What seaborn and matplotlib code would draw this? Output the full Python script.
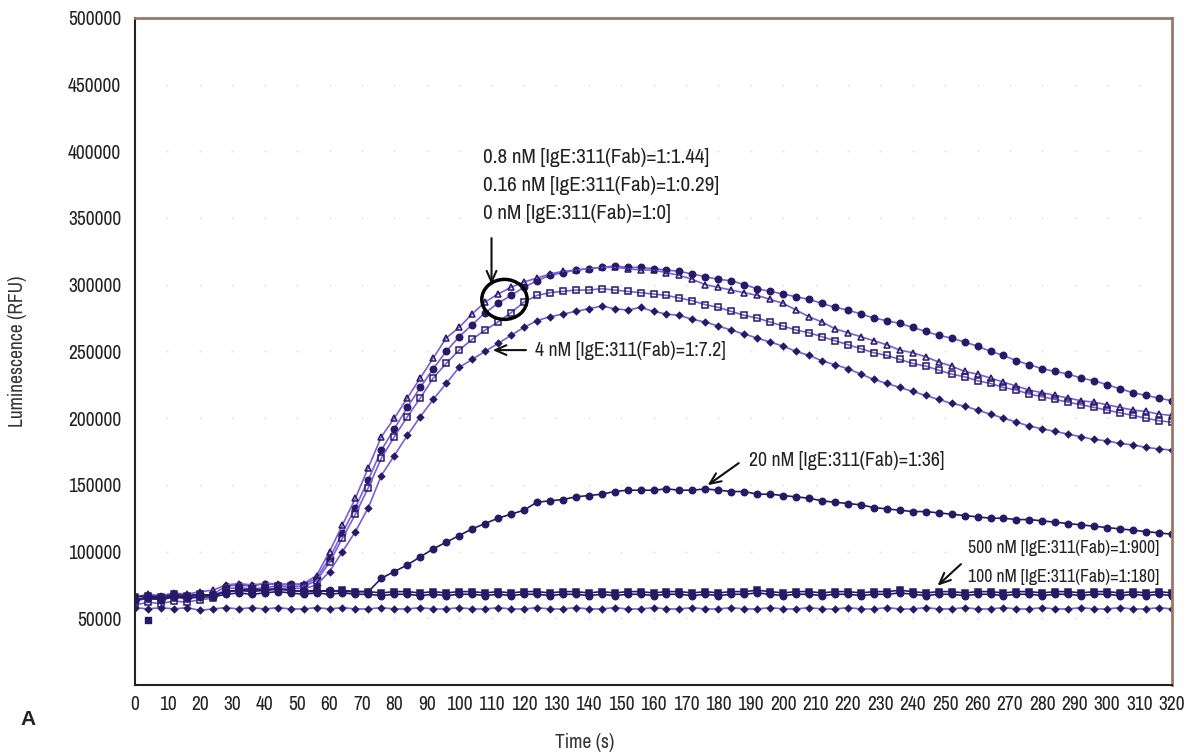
import numpy as np
import pandas as pd
import seaborn as sns
from matplotlib import pyplot as plt
from matplotlib import font_manager
from matplotlib.patches import Ellipse

# time points (s), one reading every 4 s
time_s = list(range(0, 321, 4))

# luminescence readings in thousands of RFU
conc_08 = [63, 65, 64, 66, 65, 67, 68, 74, 75, 74, 76, 75, 76,
           75, 80, 95, 114, 133, 154, 176, 192, 208, 223, 237, 250, 261, 270, 279, 286, 292, 298, 303, 307,
           309, 311, 312, 313, 314, 313, 313, 312, 311, 310, 308, 306, 304, 303, 300, 297, 295, 293, 291, 289,
           286, 283, 281, 278, 275, 273, 271, 268, 265, 262, 260, 257, 254, 250, 247, 243, 240, 237, 235, 233,
           230, 228, 225, 222, 219, 217, 215, 213]
conc_016 = [66, 68, 67, 69, 68, 70, 71, 75, 76, 75, 76, 76, 75,
            76, 82, 100, 120, 140, 163, 186, 200, 215, 230, 245, 260, 268, 278, 287, 293, 298, 302, 305, 308,
            310, 311, 312, 313, 313, 312, 311, 311, 309, 307, 304, 300, 298, 296, 294, 292, 289, 286, 281, 276,
            272, 267, 264, 261, 258, 255, 251, 249, 246, 242, 239, 235, 233, 230, 227, 224, 221, 219, 217, 215,
            213, 212, 210, 208, 206, 205, 203, 202]
conc_0 = [60, 62, 61, 63, 62, 64, 65, 72, 73, 72, 73, 74, 74,
          74, 78, 92, 110, 128, 148, 170, 186, 201, 215, 230, 241, 251, 259, 266, 272, 279, 287, 292, 294,
          295, 296, 296, 297, 296, 295, 294, 293, 292, 290, 288, 285, 283, 280, 277, 275, 272, 269, 266, 264,
          261, 258, 255, 252, 249, 247, 244, 241, 239, 236, 233, 231, 228, 226, 223, 221, 218, 216, 214, 212,
          210, 208, 206, 204, 202, 200, 198, 197]
conc_4 = [64, 65, 64, 66, 65, 66, 68, 70, 71, 71, 72, 72, 73,
          72, 75, 85, 100, 115, 133, 157, 172, 187, 201, 214, 226, 238, 244, 250, 256, 262, 268, 273, 276,
          278, 280, 282, 284, 282, 281, 283, 280, 278, 277, 274, 272, 269, 266, 263, 260, 257, 254, 250, 247,
          243, 240, 237, 233, 229, 226, 223, 220, 217, 214, 211, 209, 206, 203, 200, 197, 194, 192, 190, 188,
          186, 184, 183, 181, 180, 178, 177, 176]
conc_20 = [64, 66, 65, 67, 66, 68, 67, 70, 71, 72, 71, 72, 71, 70, 70, 71, 70, 70,
           70, 80, 85, 90, 96, 102, 107, 112, 117, 121, 125, 128, 131, 137, 138, 139, 141, 142, 143, 145,
           146, 146, 146, 147, 146, 146, 147, 146, 145, 145, 143, 143, 142, 141, 140, 138, 137, 136, 135, 133,
           132, 131, 130, 130, 129, 128, 127, 126, 125, 125, 124, 124, 123, 122, 121, 120, 119, 118, 117, 116,
           115, 114, 113]
conc_500 = [66, 67, 66, 68, 67, 68, 67, 70, 71, 70, 71, 72, 71, 70, 71, 70, 71, 70, 70, 69,
            70, 70, 69, 70, 69, 70, 70, 69, 70, 69, 70, 70, 69, 70, 70, 69, 70, 69, 70, 70,
            69, 70, 70, 69, 70, 69, 70, 70, 71, 70, 69, 70, 70, 69, 70, 70, 69, 70, 70, 71,
            70, 69, 70, 70, 69, 70, 70, 69, 70, 70, 69, 70, 70, 69, 70, 70, 69, 70, 69, 70, 69]
conc_100 = [64, 65, 64, 66, 65, 66, 66, 68, 69, 68, 69, 70, 69, 68, 69, 68, 69, 68, 68, 67,
            68, 68, 67, 68, 67, 68, 68, 67, 68, 67, 68, 68, 67, 68, 68, 67, 68, 67, 68, 68,
            67, 68, 68, 67, 68, 67, 68, 68, 69, 68, 67, 68, 68, 67, 68, 68, 67, 68, 68, 69,
            68, 67, 68, 68, 67, 68, 68, 67, 68, 68, 67, 68, 68, 67, 68, 68, 67, 68, 67, 68, 67]
blank = [58, 57, 58, 57, 58, 56, 57, 58, 57, 58, 57, 58, 57, 57, 58, 57, 58, 57, 57, 58,
         57, 57, 58, 57, 57, 58, 57, 57, 58, 57, 57, 58, 57, 57, 58, 57, 57, 58, 57, 57,
         58, 57, 57, 58, 57, 57, 58, 57, 57, 58, 57, 57, 58, 57, 57, 58, 57, 57, 58, 57,
         57, 58, 57, 57, 58, 57, 57, 58, 57, 57, 58, 57, 57, 58, 57, 57, 58, 57, 57, 58, 57]
stray_t = [4]
stray_v = [49]

series = {'0.8 nM': conc_08, '0.16 nM': conc_016, '0 nM': conc_0, '4 nM': conc_4,
          '20 nM': conc_20, '500 nM': conc_500, '100 nM': conc_100, 'blank': blank}
markers = {'0.8 nM': 'o', '0.16 nM': '^', '0 nM': 's', '4 nM': 'D',
           '20 nM': 'o', '500 nM': 's', '100 nM': 'o', 'blank': 'D'}
filled = {'0.8 nM': True, '0.16 nM': False, '0 nM': False, '4 nM': True,
          '20 nM': True, '500 nM': True, '100 nM': True, 'blank': True}

rows = []
for name, vals in series.items():
    for t, v in zip(time_s, vals):
        rows.append((name, t, v * 1000))
df = pd.DataFrame(rows, columns=['series', 'time', 'rfu'])

sns.set_style('white')

# the original uses a condensed face; take one if the system has it
names = {f.name for f in font_manager.fontManager.ttflist}
fam = 'Liberation Sans'
for cand in ['Archivo Narrow', 'Barlow Semi Condensed', 'Encode Sans Condensed', 'Asap Condensed']:
    if cand in names:
        fam = cand
        break
plt.rcParams['font.family'] = [fam, 'DejaVu Sans']
sc = 1.0 if fam != 'Liberation Sans' else 0.82

fig = plt.figure(figsize=(11.85, 7.53), dpi=100)
ax = fig.add_axes([0.114, 0.0903, 0.875, 0.886])

# faint dotted grid like the instrument export
gx, gy = np.meshgrid(np.arange(10, 320, 10), np.arange(50000, 500000, 50000))
ax.scatter(gx.ravel(), gy.ravel(), s=2, color='#cfe8ee', zorder=0, linewidths=0)

navy = '#261a66'
line_col = '#7a5ed6'
for name in series:
    sub = df[df['series'] == name]
    lc = navy if name in ('20 nM', '500 nM', '100 nM') else line_col
    sns.lineplot(data=sub, x='time', y='rfu', ax=ax, color=lc, linewidth=1.2,
                 marker=markers[name], markersize=4.6 if markers[name] != 'D' else 3.2,
                 markeredgecolor=navy, markeredgewidth=1.1,
                 markerfacecolor=navy if filled[name] else 'none',
                 estimator=None, legend=False)
ax.scatter(stray_t, [v * 1000 for v in stray_v], marker='s', s=16, color=navy, zorder=3)

ax.set_xlim(0, 320)
ax.set_ylim(0, 500000)
ax.set_xticks(range(0, 321, 10))
ax.set_xticklabels([str(v) for v in range(0, 321, 10)], fontsize=14 * sc)
yt = list(range(50000, 500001, 50000))
ax.set_yticks(yt)
ax.set_yticklabels([str(v) for v in yt], fontsize=14 * sc)
ax.tick_params(direction='in', length=6, width=1, colors='#333333', labelcolor='#222222')
ax.tick_params(axis='y', pad=10)
ax.tick_params(axis='x', pad=7)

for s in ['left', 'bottom']:
    ax.spines[s].set_color('#222222')
    ax.spines[s].set_linewidth(1.5)
for s in ['top', 'right']:
    ax.spines[s].set_color('#9a7866')
    ax.spines[s].set_linewidth(2)

ax.set_xlabel('Time (s)', fontsize=14 * sc, color='#333333')
ax.xaxis.set_label_coords(0.434, -0.072)
ax.set_ylabel('Luminescence (RFU)', fontsize=14 * sc, color='#333333')
ax.yaxis.set_label_coords(-0.104, 0.5)

tkw = dict(color='#222222', va='center', ha='left')
ax.text(107.5, 395000, '0.8 nM [IgE:311(Fab)=1:1.44]', fontsize=15.2 * sc, **tkw)
ax.text(107.5, 374000, '0.16 nM [IgE:311(Fab)=1:0.29]', fontsize=15.2 * sc, **tkw)
ax.text(107.5, 353000, '0 nM [IgE:311(Fab)=1:0]', fontsize=15.2 * sc, **tkw)
ax.text(123.5, 251000, '4 nM [IgE:311(Fab)=1:7.2]', fontsize=14.3 * sc, **tkw)
ax.text(189.5, 168000, '20 nM [IgE:311(Fab)=1:36]', fontsize=14.3 * sc, **tkw)
ax.text(257, 103000, '500 nM [IgE:311(Fab)=1:900]', fontsize=12.8 * sc, **tkw)
ax.text(257, 81000, '100 nM [IgE:311(Fab)=1:180]', fontsize=12.8 * sc, **tkw)

akw = dict(arrowstyle='->,head_width=0.35,head_length=0.8', color='#111111', lw=1.5)
ax.annotate('', xy=(110, 298000), xytext=(110, 337000), arrowprops=akw)
ax.annotate('', xy=(109.5, 251000), xytext=(121.5, 251000), arrowprops=akw)
ax.annotate('', xy=(176, 148500), xytext=(187, 167500), arrowprops=akw)
ax.annotate('', xy=(247, 73000), xytext=(255.5, 92000), arrowprops=akw)

ax.add_patch(Ellipse((114, 289000), 14, 30000, fill=False, edgecolor='black', linewidth=2.5, zorder=5))

fig.text(0.024, 0.044, 'A', fontsize=15, fontweight='bold', family=['Liberation Sans', 'DejaVu Sans'],
         color='#222222', va='center', ha='center')

fig.savefig('out.png', dpi=100)
